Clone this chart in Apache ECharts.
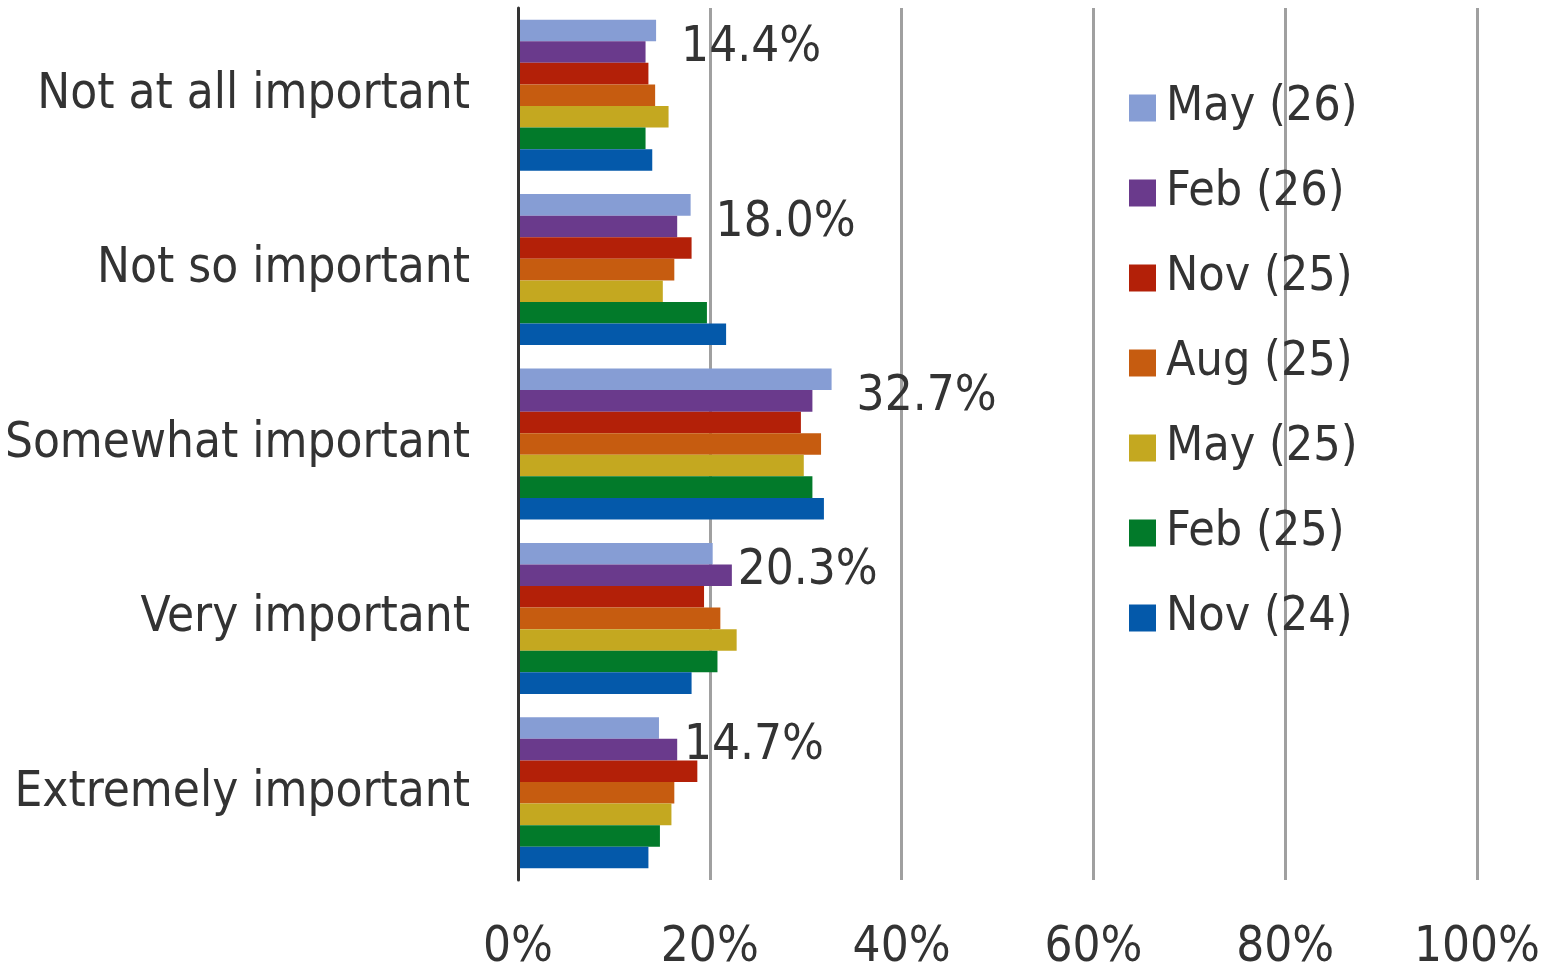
<!DOCTYPE html>
<html>
<head>
<meta charset="utf-8">
<script src="https://cdn.jsdelivr.net/npm/echarts@6/dist/echarts.min.js"></script>
<style>
  html, body { margin: 0; padding: 0; background: #fff; }
  #chart { width: 1559px; height: 973px; }
</style>
</head>
<body>
<div id="chart"></div>
<script>
const categories = ['Not at all important', 'Not so important', 'Somewhat important', 'Very important', 'Extremely important']
const seriesNames = ['May (26)', 'Feb (26)', 'Nov (25)', 'Aug (25)', 'May (25)', 'Feb (25)', 'Nov (24)']
const colors = ['#869DD4', '#6A3A8C', '#B32008', '#C65C10', '#C4A820', '#027A2A', '#0459AA']

// values in %, one array per wave
const may26 = [14.4, 18.0, 32.7, 20.3, 14.7]
const feb26 = [13.3, 16.6, 30.7, 22.3, 16.6]
const nov25 = [13.6, 18.1, 29.5, 19.4, 18.7]
const aug25 = [14.3, 16.3, 31.6, 21.1, 16.3]
const may25 = [15.7, 15.1, 29.8, 22.8, 16.0]
const feb25 = [13.3, 19.7, 30.7, 20.8, 14.8]
const nov24 = [14.0, 21.7, 31.9, 18.1, 13.6]
const seriesValues = [may26, feb26, nov25, aug25, may25, feb25, nov24]

const xTicks = [0, 20, 40, 60, 80, 100]

const font = '"DejaVu Sans Condensed", "DejaVu Sans", sans-serif'
const textColor = '#333333'

const chart = echarts.init(document.getElementById('chart'))

const series = seriesNames.map((name, i) => ({
  name,
  type: 'bar',
  data: seriesValues[i],
  barGap: '0%',
  barCategoryGap: '13.4%',
  itemStyle: { color: colors[i] },
  label: i === 0 ? {
    show: true,
    position: 'right',
    offset: [20, 18],
    formatter: p => p.value.toFixed(1) + '%',
    fontFamily: font,
    fontSize: 49,
    color: textColor
  } : { show: false }
}))

chart.setOption({
  animation: false,
  textStyle: { fontFamily: font },
  grid: { left: 518, right: 82, top: 8, bottom: 93, containLabel: false },
  legend: {
    orient: 'vertical',
    left: 1124,
    top: 79,
    itemWidth: 27,
    itemHeight: 27,
    itemGap: 37,
    icon: 'rect',
    textStyle: { fontFamily: font, fontSize: 48, lineHeight: 48, color: textColor, padding: [0, 0, 0, 5] },
    data: seriesNames
  },
  xAxis: {
    type: 'value',
    min: xTicks[0],
    max: xTicks[xTicks.length - 1],
    interval: 20,
    axisLine: { show: false },
    axisTick: { show: false },
    splitLine: { show: true, lineStyle: { color: '#A0A0A0', width: 3 } },
    axisLabel: {
      margin: 44,
      fontFamily: font,
      fontSize: 49,
      color: textColor,
      formatter: v => v + '%'
    }
  },
  yAxis: {
    type: 'category',
    inverse: true,
    z: 5,
    data: categories,
    axisLine: { show: true, lineStyle: { color: '#333333', width: 3 } },
    axisTick: { show: false },
    axisLabel: { margin: 48, fontFamily: font, fontSize: 49, color: textColor, padding: [6, 0, 0, 0] }
  },
  series
})
</script>
</body>
</html>
